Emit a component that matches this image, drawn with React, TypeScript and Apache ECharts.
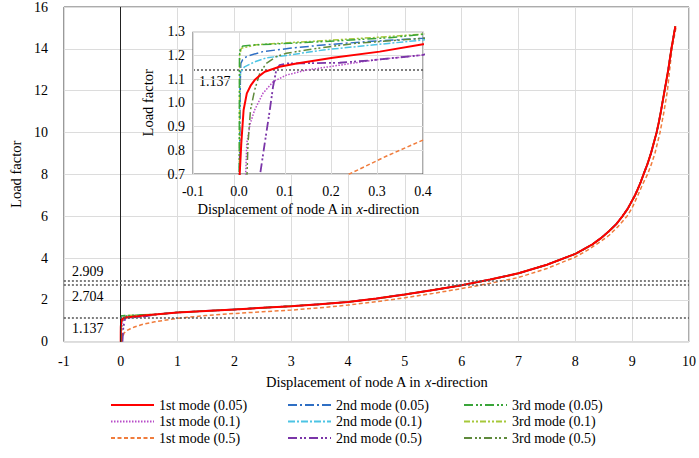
import React, { useEffect, useRef } from "react";
import * as echarts from "echarts";

const FONT = "Liberation Serif";

const seriesNames = [
  "1st mode (0.05)", "1st mode (0.1)", "1st mode (0.5)",
  "2nd mode (0.05)", "2nd mode (0.1)", "2nd mode (0.5)",
  "3rd mode (0.05)", "3rd mode (0.1)", "3rd mode (0.5)",
];

const refLevels = [1.137, 2.704, 2.909];

// shared far-field tail read from main view (curves overlap there)
const commonTail: [number, number][] = [
  [0.6, 1.3], [1, 1.4], [1.5, 1.47], [2, 1.54], [2.5, 1.62], [3, 1.7], [3.5, 1.79], [4, 1.9],
  [4.5, 2.06], [5, 2.26], [5.5, 2.47], [6, 2.7], [6.5, 2.97], [7, 3.27], [7.5, 3.68], [8, 4.2],
  [8.15, 4.42], [8.3, 4.65], [8.45, 4.95], [8.6, 5.3], [8.72, 5.62], [8.83, 6.0], [8.92, 6.35],
  [9.0, 6.75], [9.05, 7.0], [9.1, 7.3], [9.15, 7.63], [9.2, 8.0], [9.27, 8.5], [9.33, 9.0],
  [9.38, 9.5], [9.43, 10.0], [9.47, 10.5], [9.505, 11.0], [9.57, 12.0], [9.635, 13.0],
  [9.69, 14.0], [9.76, 15.08],
];

const m1a: [number, number][] = [
  [0, 0], [0.0005, 0.4], [0.0015, 0.7], [0.005, 0.83], [0.01, 0.97], [0.017, 1.04], [0.026, 1.075],
  [0.034, 1.096], [0.045, 1.115], [0.056, 1.131], [0.088, 1.152], [0.125, 1.166], [0.204, 1.19],
  [0.306, 1.216], [0.4, 1.247],
];
const m1b: [number, number][] = [
  [0, 0], [0.005, 0.3], [0.0145, 0.7], [0.017, 0.83], [0.024, 0.91], [0.034, 0.97], [0.052, 1.04],
  [0.074, 1.089], [0.103, 1.117], [0.146, 1.138], [0.219, 1.159], [0.291, 1.18], [0.4, 1.202],
];
const m1c: [number, number][] = [
  [0.017, 0], [0.03, 0.2], [0.057, 0.4], [0.1, 0.52], [0.17, 0.62], [0.24, 0.7], [0.32, 0.775],
  [0.4, 0.843], [0.6, 0.95], [1, 1.12], [1.5, 1.25], [2, 1.35], [2.5, 1.43], [3, 1.51], [3.5, 1.62],
  [4, 1.75], [4.5, 1.91], [5, 2.1], [5.5, 2.31], [6, 2.54], [6.5, 2.79], [7, 3.07], [7.5, 3.5],
  [8, 4.05], [8.23, 4.4], [8.45, 4.8], [8.6, 5.1], [8.75, 5.5], [8.91, 6.0], [9.0, 6.4], [9.1, 7.0],
  [9.18, 7.5], [9.27, 8.0], [9.34, 8.5], [9.4, 9.0], [9.49, 10.0], [9.56, 11.0], [9.62, 12.0],
  [9.66, 13.0], [9.7, 14.0], [9.77, 15.0],
];
const m2a: [number, number][] = [
  [0, 0], [0.001, 0.7], [0.003, 1.1], [0.004, 1.166], [0.008, 1.182], [0.012, 1.19], [0.023, 1.2],
  [0.052, 1.216], [0.11, 1.23], [0.183, 1.244], [0.277, 1.258], [0.4, 1.272],
];
const m2b: [number, number][] = [
  [0, 0], [0.0015, 0.7], [0.002, 1.1], [0.004, 1.13], [0.012, 1.152], [0.034, 1.173], [0.06, 1.19],
  [0.103, 1.2], [0.183, 1.223], [0.29, 1.244], [0.4, 1.265],
];
const m2c: [number, number][] = [
  [0.03, 0], [0.046, 0.7], [0.056, 0.83], [0.067, 0.97], [0.074, 1.068], [0.081, 1.138],
  [0.088, 1.159], [0.103, 1.166], [0.219, 1.169], [0.291, 1.18], [0.4, 1.202],
];
const m3a: [number, number][] = [
  [0, 0], [0.0005, 0.7], [0.001, 1.2], [0.003, 1.232], [0.009, 1.24], [0.03, 1.244], [0.11, 1.251],
  [0.219, 1.262], [0.328, 1.275], [0.4, 1.289],
];
const m3b: [number, number][] = [
  [0, 0], [0.001, 0.7], [0.0015, 1.2], [0.005, 1.23], [0.038, 1.245], [0.146, 1.258],
  [0.291, 1.275], [0.4, 1.29],
];
const m3c: [number, number][] = [
  [0.01, 0], [0.0174, 0.7], [0.0196, 0.83], [0.025, 0.97], [0.034, 1.054], [0.045, 1.124],
  [0.059, 1.166], [0.081, 1.195], [0.103, 1.209], [0.146, 1.223], [0.197, 1.237], [0.255, 1.251],
  [0.4, 1.272],
];

const seriesData: [number, number][][] = [
  [...m1a, ...commonTail], [...m1b, ...commonTail], m1c,
  [...m2a, ...commonTail], [...m2b, ...commonTail], [...m2c, ...commonTail],
  [...m3a, ...commonTail], [...m3b, ...commonTail], [...m3c, ...commonTail],
];

const colors = ["#ff0000", "#b84cc8", "#f07c3c", "#2f6fc4", "#4cc4e4", "#7a35a8", "#3aa53a", "#a6c83a", "#5f8a3c"];
const dashes: any[] = [
  "solid", [1.5, 1.5], [4, 2.5], [9, 3, 2, 3], [7, 2, 2, 2], [9, 3, 2, 2, 2, 3], [9, 3, 2, 2, 2, 3], [6, 2, 2, 2, 2, 2], [8, 3, 2, 2, 2, 3],
];
const widths = [2, 1.5, 1.5, 1.5, 1.5, 1.8, 1.5, 1.5, 1.5];

export default function App() {
  const ref = useRef<HTMLDivElement>(null);
  useEffect(() => {
    if (!ref.current) return;
    const chart = echarts.init(ref.current, null, { renderer: "svg" });
    const txt = { fontFamily: FONT, fontSize: 14, color: "#000" };
    const dotted = { color: "#555", type: [2, 2] as any, width: 1.5 };
    const order = [2, 1, 5, 4, 3, 8, 7, 6, 0];
    const series: any[] = [];
    for (const grid of [0, 1]) {
      for (const i of order) {
        series.push({
          type: "line",
          name: seriesNames[i],
          xAxisIndex: grid,
          yAxisIndex: grid,
          data: seriesData[i],
          symbol: "none",
          smooth: false,
          clip: true,
          z: grid === 0 ? 2 : 8,
          lineStyle: { color: colors[i], type: dashes[i], width: widths[i] },
          itemStyle: { color: colors[i] },
        });
      }
    }
    const mainMark = {
      type: "line", xAxisIndex: 0, yAxisIndex: 0, data: [], z: 1, silent: true,
      markLine: {
        symbol: "none", silent: true, animation: false,
        data: [
          { xAxis: 0, lineStyle: { color: "#222", type: "solid", width: 1 }, label: { show: false } },
          { yAxis: refLevels[0], lineStyle: dotted, label: { show: true, position: "insideStartBottom", formatter: "1.137", distance: [8, 4], ...txt } },
          { yAxis: refLevels[1], lineStyle: dotted, label: { show: true, position: "insideStartBottom", formatter: "2.704", distance: [8, 4], ...txt } },
          { yAxis: refLevels[2], lineStyle: dotted, label: { show: true, position: "insideStartTop", formatter: "2.909", distance: [8, 2], ...txt } },
        ],
      },
    };
    const insetMark = {
      type: "line", xAxisIndex: 1, yAxisIndex: 1, data: [], z: 7, silent: true,
      markLine: {
        symbol: "none", silent: true, animation: false,
        data: [
          { xAxis: 0, lineStyle: { color: "#222", type: "solid", width: 1 }, label: { show: false } },
          { yAxis: refLevels[0], lineStyle: dotted, label: { show: true, position: "insideStartBottom", formatter: "1.137", distance: [6, 5], ...txt } },
        ],
      },
    };
    series.unshift(mainMark, insetMark);

    const axisName = {
      fontFamily: FONT, fontSize: 14.5, color: "#000",
      rich: { a: { fontFamily: FONT, fontSize: 14.5, color: "#000" }, i: { fontFamily: FONT, fontSize: 14.5, color: "#000", fontStyle: "italic" } },
    };
    const xName = "{a|Displacement of node A in }{i|x}{a|-direction}";
    const grid = (z: number) => ({ show: true, borderColor: "#595959", borderWidth: 1, backgroundColor: "#fff", z });
    const split = { show: true, lineStyle: { color: "#dcdcdc", width: 1 } };

    const legendBase = {
      orient: "vertical", top: 393, itemWidth: 43, itemHeight: 14, itemGap: 2.5,
      textStyle: { fontFamily: FONT, fontSize: 14, color: "#000" }, selectedMode: false,
      itemStyle: { color: "transparent", borderColor: "transparent", borderWidth: 0, opacity: 0 },
    };

    chart.setOption({
      animation: false,
      textStyle: { fontFamily: FONT },
      grid: [
        { left: 51.7, right: 5.7, top: 5.5, bottom: 116.3, ...grid(0) },
        { left: 193, top: 31.7, width: 230, height: 142.3, ...grid(5) },
      ],
      xAxis: [
        {
          type: "value", gridIndex: 0, min: -1, max: 10, interval: 1,
          axisLine: { show: false }, axisTick: { show: false }, splitLine: split,
          axisLabel: { ...txt, margin: 13 },
          name: xName, nameLocation: "middle", nameGap: 33, nameTextStyle: axisName,
        },
        {
          type: "value", gridIndex: 1, min: -0.1, max: 0.4, interval: 0.1, z: 6,
          axisLine: { show: false }, axisTick: { show: false }, splitLine: split,
          axisLabel: { ...txt, margin: 10, formatter: (v: number) => v.toFixed(1) },
          name: xName, nameLocation: "middle", nameGap: 27, nameTextStyle: axisName,
        },
      ],
      yAxis: [
        {
          type: "value", gridIndex: 0, min: 0, max: 16, interval: 2,
          axisLine: { show: false }, axisTick: { show: false }, splitLine: split,
          axisLabel: { ...txt, margin: 16 },
          name: "Load factor", nameLocation: "middle", nameGap: 37, nameTextStyle: axisName,
        },
        {
          type: "value", gridIndex: 1, min: 0.7, max: 1.3, interval: 0.1, z: 6,
          axisLine: { show: false }, axisTick: { show: false }, splitLine: split,
          axisLabel: { ...txt, margin: 8, formatter: (v: number) => v.toFixed(1) },
          name: "Load factor", nameLocation: "middle", nameGap: 38, nameTextStyle: axisName,
        },
      ],
      legend: [
        { ...legendBase, left: 105, data: seriesNames.slice(0, 3) },
        { ...legendBase, left: 282, data: seriesNames.slice(3, 6) },
        { ...legendBase, left: 458, data: seriesNames.slice(6, 9) },
      ],
      series,
    });
    return () => chart.dispose();
  }, []);
  return <div ref={ref} style={{ position: "fixed", left: 0, top: 0, width: 699, height: 458, background: "#fff" }} />;
}
